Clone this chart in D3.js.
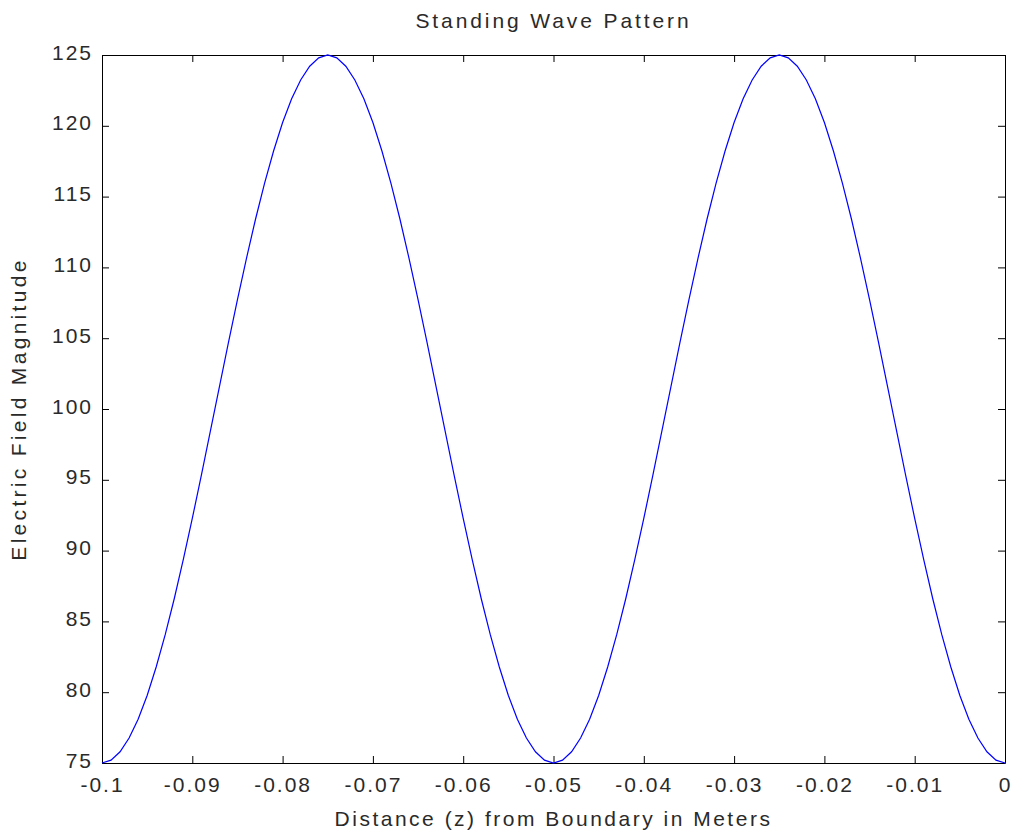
<!DOCTYPE html>
<html>
<head>
<meta charset="utf-8">
<script src="https://cdn.jsdelivr.net/npm/d3@7"></script>
<style>
  body { margin: 0; background: #fff; }
  text { font-family: "Liberation Sans", Arial, sans-serif; fill: #2a2a2a; }
</style>
</head>
<body>
<div id="chart"></div>
<script>
// sample positions: -0.1 .. 0, every 0.001 m
const zStart = -0.1;
const zStep = 0.001;

// electric field magnitude
const eValues = [
  75.00, 75.20, 75.79, 76.76, 78.09, 79.77, 81.78, 84.06, 86.60, 89.36,
  92.27, 95.32, 98.43, 101.57, 104.68, 107.73, 110.64, 113.40, 115.94, 118.22,
  120.23, 121.91, 123.24, 124.21, 124.80, 125.00, 124.80, 124.21, 123.24, 121.91,
  120.23, 118.22, 115.94, 113.40, 110.64, 107.73, 104.68, 101.57, 98.43, 95.32,
  92.27, 89.36, 86.60, 84.06, 81.78, 79.77, 78.09, 76.76, 75.79, 75.20,
  75.00, 75.20, 75.79, 76.76, 78.09, 79.77, 81.78, 84.06, 86.60, 89.36,
  92.27, 95.32, 98.43, 101.57, 104.68, 107.73, 110.64, 113.40, 115.94, 118.22,
  120.23, 121.91, 123.24, 124.21, 124.80, 125.00, 124.80, 124.21, 123.24, 121.91,
  120.23, 118.22, 115.94, 113.40, 110.64, 107.73, 104.68, 101.57, 98.43, 95.32,
  92.27, 89.36, 86.60, 84.06, 81.78, 79.77, 78.09, 76.76, 75.79, 75.20,
  75.00
];

const xTicks = [-0.1, -0.09, -0.08, -0.07, -0.06, -0.05, -0.04, -0.03, -0.02, -0.01, 0];
const xTickLabels = ["-0.1", "-0.09", "-0.08", "-0.07", "-0.06", "-0.05", "-0.04", "-0.03", "-0.02", "-0.01", "0"];
const yTicks = [75, 80, 85, 90, 95, 100, 105, 110, 115, 120, 125];

const data = eValues.map((e, i) => ({ z: zStart + i * zStep, e: e }));

const W = 1013, H = 833;
const margin = { top: 55, right: 8, bottom: 70, left: 102 };
const width = W - margin.left - margin.right;
const height = H - margin.top - margin.bottom;

const svg = d3.select("#chart")
  .append("svg")
  .attr("width", W)
  .attr("height", H);

const g = svg.append("g")
  .attr("transform", `translate(${margin.left},${margin.top})`);

const x = d3.scaleLinear().domain([-0.1, 0]).range([0, width]);
const y = d3.scaleLinear().domain([75, 125]).range([height, 0]);

function styleAxis(sel) {
  sel.select(".domain").attr("stroke", "#000");
  sel.selectAll(".tick line").attr("stroke", "#000");
  sel.selectAll("text")
    .attr("fill", "#2a2a2a")
    .style("font-size", "21px")
    .style("letter-spacing", "2px");
}

// bottom axis
g.append("g")
  .attr("transform", `translate(0,${height})`)
  .call(d3.axisBottom(x).tickValues(xTicks)
    .tickFormat((d, i) => xTickLabels[i])
    .tickSize(-7).tickSizeOuter(0).tickPadding(14))
  .call(styleAxis);

// left axis
g.append("g")
  .call(d3.axisLeft(y).tickValues(yTicks)
    .tickSize(-7).tickSizeOuter(0).tickPadding(9))
  .call(styleAxis)
  .selectAll("text").attr("dy", "0.19em");

// top and right box axes
g.append("g")
  .call(d3.axisTop(x).tickValues(xTicks).tickFormat("")
    .tickSize(-7).tickSizeOuter(0))
  .call(styleAxis);

g.append("g")
  .attr("transform", `translate(${width},0)`)
  .call(d3.axisRight(y).tickValues(yTicks).tickFormat("")
    .tickSize(-7).tickSizeOuter(0))
  .call(styleAxis);

// the wave
const line = d3.line()
  .x(d => x(d.z))
  .y(d => y(d.e));

g.append("path")
  .datum(data)
  .attr("fill", "none")
  .attr("stroke", "#0000ff")
  .attr("stroke-width", 1.2)
  .attr("d", line);

// titles
svg.append("text")
  .attr("x", margin.left + width / 2)
  .attr("y", 28)
  .attr("text-anchor", "middle")
  .style("font-size", "21px")
  .style("letter-spacing", "2.9px")
  .text("Standing Wave Pattern");

svg.append("text")
  .attr("x", margin.left + width / 2)
  .attr("y", 826)
  .attr("text-anchor", "middle")
  .style("font-size", "21px")
  .style("letter-spacing", "2.5px")
  .text("Distance (z) from Boundary in Meters");

svg.append("text")
  .attr("transform", `translate(26,${margin.top + height / 2}) rotate(-90)`)
  .attr("text-anchor", "middle")
  .style("font-size", "21px")
  .style("letter-spacing", "3.3px")
  .text("Electric Field Magnitude");
</script>
</body>
</html>
